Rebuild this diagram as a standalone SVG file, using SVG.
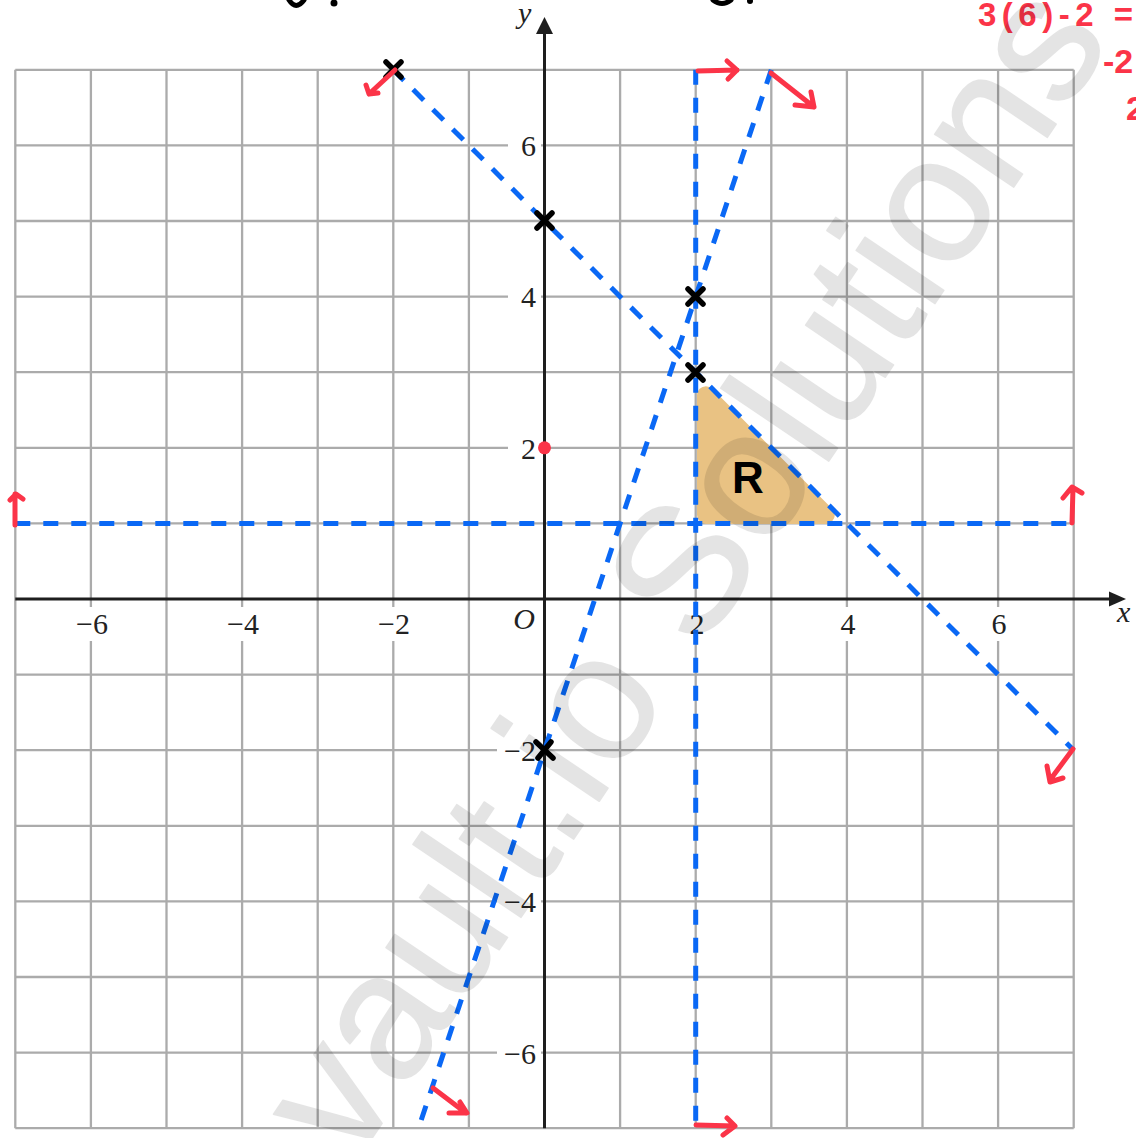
<svg xmlns="http://www.w3.org/2000/svg" width="1136" height="1138" viewBox="0 0 1136 1138">
<style>
.grid{stroke:#ababab;stroke-width:2.3;fill:none}
.lbl{font-family:"Liberation Serif",serif;font-size:30px;fill:#222}
.it{font-style:italic}
.bx{fill:#fff}
.axis{stroke:#1e1e1e;stroke-width:3;fill:none}
.dash{stroke:#0a68f5;stroke-width:5;stroke-dasharray:15 13;fill:none}
.cross{stroke:#000;stroke-width:5.5;stroke-linecap:round;fill:none}
.red{stroke:#fb3448;stroke-width:5;stroke-linecap:round;stroke-linejoin:round;fill:none}
.redt{font-family:"Liberation Sans",sans-serif;font-weight:bold;fill:#fb3448}
</style>
<rect width="1136" height="1138" fill="#fff"/>
<g id="grid">
<path class="grid" d="M15.3 69.8V1128.2M90.9 69.8V1128.2M166.5 69.8V1128.2M242.1 69.8V1128.2M317.7 69.8V1128.2M393.3 69.8V1128.2M468.9 69.8V1128.2M620.1 69.8V1128.2M695.7 69.8V1128.2M771.3 69.8V1128.2M846.9 69.8V1128.2M922.5 69.8V1128.2M998.1 69.8V1128.2M1073.7 69.8V1128.2"/>
<path class="grid" d="M15.3 69.8H1073.7M15.3 145.4H1073.7M15.3 221H1073.7M15.3 296.6H1073.7M15.3 372.2H1073.7M15.3 447.8H1073.7M15.3 523.4H1073.7M15.3 674.6H1073.7M15.3 750.2H1073.7M15.3 825.8H1073.7M15.3 901.4H1073.7M15.3 977H1073.7M15.3 1052.6H1073.7M15.3 1128.2H1073.7"/>
</g>
<g id="tick-labels">
<rect class="bx" x="73" y="607" width="38" height="34"/>
<rect class="bx" x="224" y="607" width="38" height="34"/>
<rect class="bx" x="375" y="607" width="38" height="34"/>
<rect class="bx" x="684" y="607" width="26" height="34"/>
<rect class="bx" x="835" y="607" width="26" height="34"/>
<rect class="bx" x="986" y="607" width="26" height="34"/>
<rect class="bx" x="508" y="131" width="33" height="28"/>
<rect class="bx" x="508" y="282" width="33" height="28"/>
<rect class="bx" x="508" y="434" width="33" height="28"/>
<rect class="bx" x="497" y="736" width="44" height="28"/>
<rect class="bx" x="497" y="887" width="44" height="28"/>
<rect class="bx" x="497" y="1038" width="44" height="28"/>
<text class="lbl" x="92" y="634" text-anchor="middle">−6</text>
<text class="lbl" x="243" y="634" text-anchor="middle">−4</text>
<text class="lbl" x="394" y="634" text-anchor="middle">−2</text>
<text class="lbl" x="697" y="634" text-anchor="middle">2</text>
<text class="lbl" x="848" y="634" text-anchor="middle">4</text>
<text class="lbl" x="999" y="634" text-anchor="middle">6</text>
<text class="lbl" x="536" y="156" text-anchor="end">6</text>
<text class="lbl" x="536" y="307" text-anchor="end">4</text>
<text class="lbl" x="536" y="459" text-anchor="end">2</text>
<text class="lbl" x="536" y="761" text-anchor="end">−2</text>
<text class="lbl" x="536" y="912" text-anchor="end">−4</text>
<text class="lbl" x="536" y="1064" text-anchor="end">−6</text>
<text class="lbl it" x="535" y="629" text-anchor="end">O</text>
<text class="lbl it" x="518" y="23">y</text>
<text class="lbl it" x="1117" y="622">x</text>
</g>
<g id="region-R">
<polygon points="706,395.2 706,515 825.8,515" fill="#e9c283" stroke="#e9c283" stroke-width="18" stroke-linejoin="round"/>
<text x="732" y="493" font-family="Liberation Sans, sans-serif" font-weight="bold" font-size="44" fill="#000">R</text>
</g>
<g id="axes">
<path class="axis" d="M15.3 599H1110"/>
<polygon points="1109,591.5 1126,599 1109,606.5" fill="#1e1e1e"/>
<path class="axis" d="M544.5 1128.2V32"/>
<polygon points="536,34 544.5,17 553,34" fill="#1e1e1e"/>
</g>
<g id="connectors">
<path class="dash" d="M393.3 69.8L1073.7 750.2"/>
<path class="dash" d="M771.3 69.8L418.5 1128.2"/>
<path class="dash" d="M695.7 69.8V1128.2"/>
<path class="dash" d="M15.3 523.4H1073.7"/>
</g>
<g id="points">
<path class="cross" d="M386 62L401 77M401 62L386 77"/>
<path class="cross" d="M537 213L552 228M552 213L537 228"/>
<path class="cross" d="M688 289L703 304M703 289L688 304"/>
<path class="cross" d="M688 365L703 380M703 365L688 380"/>
<path class="cross" d="M536 742L553 758M551 742L538 758"/>
<circle cx="544.5" cy="447.8" r="6.5" fill="#fb3448"/>
</g>
<g id="direction-arrows">
<path class="red" d="M395 70L369 94M366 85L369 94L378 93"/>
<path class="red" d="M698 71L737 70M727 61L737 70L728 79"/>
<path class="red" d="M771 73L814 107M811 92L814 107L795 105"/>
<path class="red" d="M15 525V494M10 500L16 494L23 499"/>
<path class="red" d="M1072 523L1073 488M1063 498L1072 487L1082 493"/>
<path class="red" d="M1073 749L1050 780M1047 766L1050 782L1063 778"/>
<path class="red" d="M433 1088L466 1113M460 1102L467 1113L449 1113"/>
<path class="red" d="M696 1125L735 1126M727 1118L735 1126L723 1135"/>
</g>
<g id="handwriting">
<text class="redt" x="978" y="26" font-size="33" textLength="155" lengthAdjust="spacing">3(6)-2 =</text>
<text class="redt" x="1103" y="73" font-size="34">-2</text>
<text class="redt" x="1126" y="120" font-size="34">2</text>
<path d="M289 0Q296 11 304 0" stroke="#000" stroke-width="5" fill="none" stroke-linecap="round"/>
<circle cx="334" cy="3" r="3.5" fill="#000"/>
<path d="M713 0Q722 7 731 0" stroke="#000" stroke-width="5" fill="none" stroke-linecap="round"/>
<circle cx="750" cy="1" r="3" fill="#000"/>
</g>
<g id="watermark" opacity="0.1">
<text transform="translate(352,1168) rotate(-56)" font-family="Liberation Sans, sans-serif" font-size="180" fill="#000" stroke="#000" stroke-width="1.5" stroke-linejoin="round">vault.io Solutions</text>
</g>
</svg>
